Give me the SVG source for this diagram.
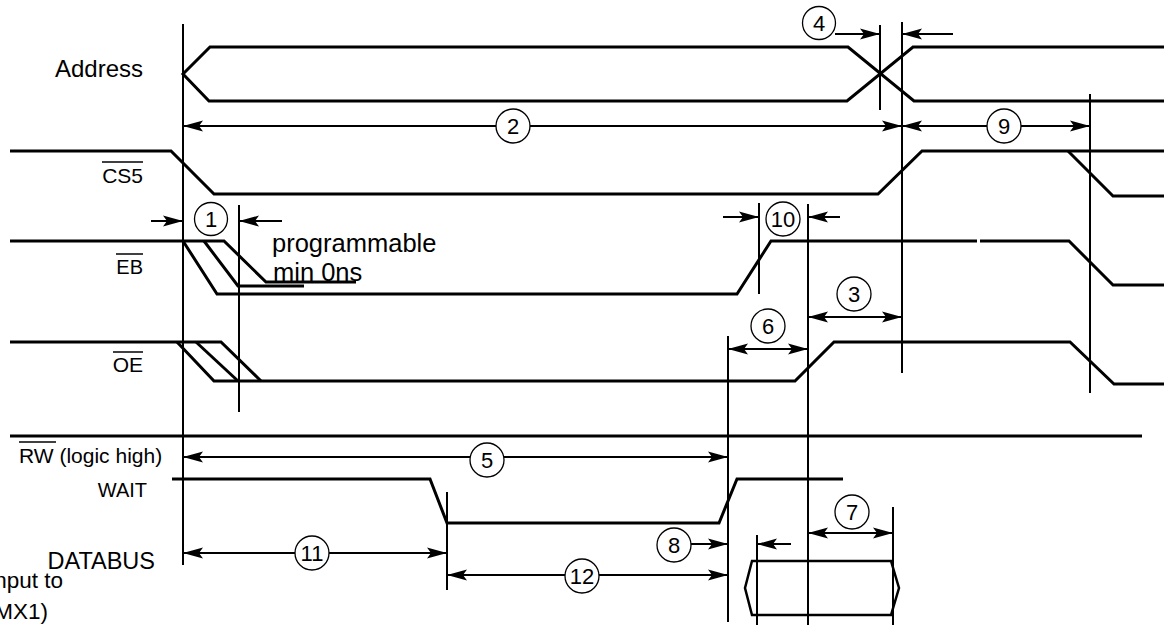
<svg xmlns="http://www.w3.org/2000/svg" width="1164" height="625" viewBox="0 0 1164 625">
<style>
.sig{fill:none;stroke:#000;stroke-width:3;stroke-linejoin:miter}
.vl{stroke:#000;stroke-width:2;fill:none}
.dim{stroke:#000;stroke-width:2;fill:none}
.ol{stroke:#000;stroke-width:1.5}
.lbl{font-family:"Liberation Sans",Arial,sans-serif;font-size:21px;fill:#000}
.num{font-family:"Liberation Sans",Arial,sans-serif;font-size:22px;fill:#000;text-anchor:middle}
.cir{fill:#fff;stroke:#000;stroke-width:1.3}
</style>
<defs>
<marker id="ah" viewBox="0 0 20 12" refX="20" refY="6" markerWidth="20" markerHeight="12" markerUnits="userSpaceOnUse" orient="auto-start-reverse">
<path d="M0,0.5 L20,6 L0,11.5 L4,6 Z" fill="#000"/>
</marker>
</defs>
<rect width="1164" height="625" fill="#fff"/>

<g id="labels">
<text class="lbl" x="143" y="77" text-anchor="end" style="font-size:24px">Address</text>
<text class="lbl" x="143" y="183" text-anchor="end">CS5</text>
<line class="ol" x1="102" y1="162" x2="143" y2="162"/>
<text class="lbl" x="143" y="274" text-anchor="end" style="font-size:20px">EB</text>
<line class="ol" x1="116" y1="254" x2="143" y2="254"/>
<text class="lbl" x="143" y="372" text-anchor="end">OE</text>
<line class="ol" x1="113" y1="352" x2="143" y2="352"/>
<text class="lbl" x="19" y="463">RW (logic high)</text>
<line class="ol" x1="19" y1="442" x2="56" y2="442"/>
<text class="lbl" x="147" y="497" text-anchor="end" style="font-size:20px">WAIT</text>
<text class="lbl" x="155" y="569" text-anchor="end" style="font-size:23.5px">DATABUS</text>
<text class="lbl" x="63" y="588" text-anchor="end" style="font-size:22.5px">input to</text>
<text class="lbl" x="48" y="619" text-anchor="end" style="font-size:22.5px">MX1)</text>
<text class="lbl" x="272" y="252" style="font-size:25.5px">programmable</text>
<text class="lbl" x="273" y="281" style="font-size:25.5px">min 0ns</text>
</g>

<g id="address">
<polyline class="sig" points="1164,47 913,47 847,101 209,101 183,74 210,47 848,47 914,101 1164,101"/>
</g>

<g id="cs5">
<polyline class="sig" points="10,151 171,151 214,194 878,194 922,151 1164,151"/>
<polyline class="sig" points="1068,151 1113,196 1164,196"/>
</g>

<g id="eb">
<polyline class="sig" points="10,241 224,241 266,282 356,282"/>
<polyline class="sig" points="183,241 217,294 737,294 771,241 977,241"/>
<polyline class="sig" points="980,241 1069,241 1113,285 1164,285"/>
<polyline class="sig" points="204,241 238,286 304,286"/>
</g>

<g id="oe">
<polyline class="sig" points="10,342 221,342 261,381"/>
<polyline class="sig" points="177,342 214,381 795,381 834,342 1070,342 1114,384 1164,384"/>
<polyline class="sig" points="196,342 238,381"/>
</g>

<g id="rw">
<line class="sig" x1="10" y1="436" x2="1142" y2="436"/>
</g>

<g id="wait">
<polyline class="sig" points="172,479 430,479 447,523 719,523 737,479 843,479"/>
</g>

<g id="databus">
<polygon class="sig" style="stroke-width:2.5" points="745,588 752,561 891,561 899,588 891,615 752,615"/>
</g>

<g id="connectors">
<line class="vl" x1="183" y1="24" x2="183" y2="565"/>
<line class="vl" x1="880" y1="25" x2="880" y2="110"/>
<line class="vl" x1="902" y1="22" x2="902" y2="373"/>
<line class="vl" x1="1090" y1="94" x2="1090" y2="393"/>
<line class="vl" x1="239" y1="205" x2="239" y2="412"/>
<line class="vl" x1="759" y1="203" x2="759" y2="294"/>
<line class="vl" x1="808" y1="204" x2="808" y2="625"/>
<line class="vl" x1="728" y1="336" x2="728" y2="622"/>
<line class="vl" x1="447" y1="492" x2="447" y2="590"/>
<line class="vl" x1="757" y1="535" x2="757" y2="625"/>
<line class="vl" x1="893" y1="507" x2="893" y2="625"/>

<line class="dim" x1="835" y1="34" x2="880" y2="34" marker-end="url(#ah)"/>
<line class="dim" x1="953" y1="34" x2="902" y2="34" marker-end="url(#ah)"/>
<line class="dim" x1="183" y1="126" x2="902" y2="126" marker-start="url(#ah)" marker-end="url(#ah)"/>
<line class="dim" x1="902" y1="126" x2="1090" y2="126" marker-start="url(#ah)" marker-end="url(#ah)"/>
<line class="dim" x1="151" y1="221" x2="183" y2="221" marker-end="url(#ah)"/>
<line class="dim" x1="282" y1="221" x2="239" y2="221" marker-end="url(#ah)"/>
<line class="dim" x1="723" y1="217" x2="759" y2="217" marker-end="url(#ah)"/>
<line class="dim" x1="840" y1="217" x2="808" y2="217" marker-end="url(#ah)"/>
<line class="dim" x1="808" y1="317" x2="902" y2="317" marker-start="url(#ah)" marker-end="url(#ah)"/>
<line class="dim" x1="728" y1="349" x2="808" y2="349" marker-start="url(#ah)" marker-end="url(#ah)"/>
<line class="dim" x1="183" y1="457" x2="728" y2="457" marker-start="url(#ah)" marker-end="url(#ah)"/>
<line class="dim" x1="183" y1="553" x2="447" y2="553" marker-start="url(#ah)" marker-end="url(#ah)"/>
<line class="dim" x1="447" y1="575" x2="728" y2="575" marker-start="url(#ah)" marker-end="url(#ah)"/>
<line class="dim" x1="691" y1="544" x2="728" y2="544" marker-end="url(#ah)"/>
<line class="dim" x1="791" y1="544" x2="757" y2="544" marker-end="url(#ah)"/>
<line class="dim" x1="808" y1="533" x2="893" y2="533" marker-start="url(#ah)" marker-end="url(#ah)"/>
</g>

<g id="markers">
<circle class="cir" cx="211" cy="219" r="16.5"/><text class="num" x="211" y="227">1</text>
<circle class="cir" cx="513" cy="126" r="17"/><text class="num" x="513" y="134">2</text>
<circle class="cir" cx="854" cy="294" r="17"/><text class="num" x="854" y="302">3</text>
<circle class="cir" cx="819" cy="23" r="16.5"/><text class="num" x="819" y="31">4</text>
<circle class="cir" cx="487" cy="460" r="17"/><text class="num" x="487" y="468">5</text>
<circle class="cir" cx="768" cy="326" r="17"/><text class="num" x="768" y="334">6</text>
<circle class="cir" cx="852" cy="512" r="17"/><text class="num" x="852" y="520">7</text>
<circle class="cir" cx="674" cy="545" r="17"/><text class="num" x="674" y="553">8</text>
<circle class="cir" cx="1004" cy="126" r="17"/><text class="num" x="1004" y="134">9</text>
<circle class="cir" cx="783" cy="219" r="17"/><text class="num" x="783" y="227">10</text>
<circle class="cir" cx="312" cy="553" r="17"/><text class="num" x="312" y="561">11</text>
<circle class="cir" cx="582" cy="576" r="17"/><text class="num" x="582" y="584">12</text>
</g>
</svg>
